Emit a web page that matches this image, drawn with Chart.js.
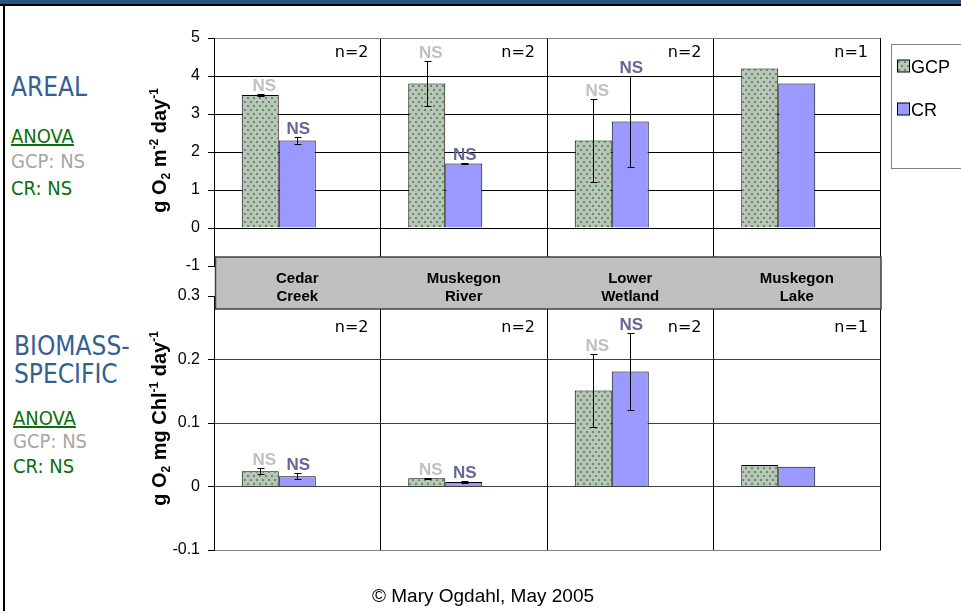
<!DOCTYPE html>
<html>
<head>
<meta charset="utf-8">
<script src="https://cdn.jsdelivr.net/npm/chart.js@4.4.0/dist/chart.umd.min.js"></script>
<style>
  body { margin: 0; width: 961px; height: 611px; position: relative; background: #fff; overflow: hidden; }
  #bar { position: absolute; left: 0; top: 0; width: 961px; height: 4px; background: #2b5384; border-bottom: 2px solid #000; }
  #edge { position: absolute; left: 3px; top: 4px; width: 2px; height: 607px; background: #000; }
  canvas { position: absolute; left: 0; }
  #topChart { top: 0; }
  #bottomChart { top: 250px; }
  .side { position: absolute; font-family: 'DejaVu Sans Condensed', 'DejaVu Sans', sans-serif; font-stretch: condensed; white-space: nowrap; }
  .head { color: #335f91; font-size: 26px; line-height: 28px; }
  .anova { color: #0a6e0a; font-size: 20px; line-height: 24px; text-decoration: underline; }
  .gray { color: #a6a6a6; font-size: 20px; line-height: 24px; }
  .green { color: #0a6e0a; font-size: 20px; line-height: 24px; }
  #copy { position: absolute; top: 585px; left: 0; width: 966px; text-align: center; font-family: 'Liberation Sans Narrow', 'Liberation Sans', sans-serif; font-size: 19px; line-height: 22px; }
</style>
</head>
<body>
<div id="bar"></div>
<div id="edge"></div>

<div class="side head" style="left:11px; top:73px;">AREAL</div>
<div class="side anova" style="left:11px; top:124px;">ANOVA</div>
<div class="side gray" style="left:11px; top:149px;">GCP: NS</div>
<div class="side green" style="left:11px; top:176px;">CR: NS</div>

<div class="side head" style="left:14px; top:332px;">BIOMASS-<br>SPECIFIC</div>
<div class="side anova" style="left:13px; top:406px;">ANOVA</div>
<div class="side gray" style="left:13px; top:429px;">GCP: NS</div>
<div class="side green" style="left:13px; top:454px;">CR: NS</div>

<canvas id="topChart" width="961" height="290"></canvas>
<canvas id="bottomChart" width="961" height="361"></canvas>

<div id="copy">© Mary Ogdahl, May 2005</div>

<script>
// sites
const categories = [['Cedar', 'Creek'], ['Muskegon', 'River'], ['Lower', 'Wetland'], ['Muskegon', 'Lake']];
const nSites = [2, 2, 2, 1];

// areal, g O2 m-2 day-1
const gcpAreal = [3.5, 3.8, 2.3, 4.2];
const crAreal = [2.3, 1.7, 2.8, 3.8];
const gcpArealErr = [0.02, 0.6, 1.1, 0];
const crArealErr = [0.09, 0.02, 1.2, 0];

// biomass-specific, g O2 mg Chl-1 day-1
const gcpBio = [0.024, 0.013, 0.151, 0.034];
const crBio = [0.016, 0.007, 0.181, 0.031];
const gcpBioErr = [0.005, 0.001, 0.057, 0];
const crBioErr = [0.0045, 0.001, 0.061, 0];

// significance notes
const gcpNote = ['NS', 'NS', 'NS', ''];
const crNote = ['NS', 'NS', 'NS', ''];

// y axes
const arealTicks = [-1, 0, 1, 2, 3, 4, 5];
const bioTicks = [-0.1, 0, 0.1, 0.2, 0.3];

const FONT = '"Liberation Sans", Arial, sans-serif';
Chart.defaults.font.family = FONT;
Chart.defaults.color = '#000';

// grey with green dots, like the Excel fill
function dotPattern() {
    const c = document.createElement('canvas');
    c.width = 6; c.height = 8;
    const g = c.getContext('2d');
    g.fillStyle = '#c0c0c0';
    g.fillRect(0, 0, 6, 8);
    g.fillStyle = '#3daa3d';
    g.fillRect(1, 1, 2, 2);
    g.fillRect(4, 5, 2, 2);
    return g.createPattern(c, 'repeat');
}
const gcpFill = dotPattern();
const crFill = '#9999ff';

// title with sub/superscripts, drawn rotated
function richTitle(ctx, parts, x, y) {
    const big = 'bold 20px ' + FONT, small = 'bold 12px ' + FONT;
    let w = 0;
    parts.forEach(p => { ctx.font = p.s ? small : big; w += ctx.measureText(p.t).width; });
    ctx.save();
    ctx.translate(x, y);
    ctx.rotate(-Math.PI / 2);
    ctx.fillStyle = '#000';
    ctx.textAlign = 'left';
    ctx.textBaseline = 'alphabetic';
    let cx = -w / 2;
    parts.forEach(p => {
        ctx.font = p.s ? small : big;
        const dy = p.s === 'sub' ? 10 : p.s === 'sup' ? -2 : 6;
        ctx.fillText(p.t, cx, dy);
        cx += ctx.measureText(p.t).width;
    });
    ctx.restore();
}

const marks = {
    id: 'marks',
    afterDatasetsDraw(chart, args, o) {
        const ctx = chart.ctx, x = chart.scales.x, y = chart.scales.y, area = chart.chartArea;
        ctx.save();
        // error bars
        ctx.strokeStyle = '#000';
        ctx.lineWidth = 1;
        o.errs.forEach((errs, d) => {
            const vals = chart.data.datasets[d].data;
            chart.getDatasetMeta(d).data.forEach((bar, i) => {
                if (!errs[i]) return;
                const hi = Math.round(y.getPixelForValue(vals[i] + errs[i])) + 0.5;
                const lo = Math.round(y.getPixelForValue(vals[i] - errs[i])) + 0.5;
                const cx = Math.round(bar.x) + 0.5;
                ctx.beginPath();
                ctx.moveTo(cx, hi); ctx.lineTo(cx, lo);
                ctx.moveTo(cx - 3, hi); ctx.lineTo(cx + 4, hi);
                ctx.moveTo(cx - 3, lo); ctx.lineTo(cx + 4, lo);
                ctx.stroke();
            });
        });
        // NS labels
        ctx.font = 'bold 17px ' + FONT;
        ctx.textAlign = 'center';
        ctx.textBaseline = 'alphabetic';
        o.notes.forEach((notes, d) => {
            const vals = chart.data.datasets[d].data;
            chart.getDatasetMeta(d).data.forEach((bar, i) => {
                if (!notes[i]) return;
                const top = Math.min(bar.y, y.getPixelForValue(vals[i] + o.errs[d][i]));
                ctx.fillStyle = o.noteColors[d];
                ctx.fillText(notes[i], bar.x + (d === 0 ? 4 : 1), top - 3);
            });
        });
        // n= labels
        ctx.font = '16px "DejaVu Sans", sans-serif';
        ctx.textAlign = 'right';
        ctx.fillStyle = '#000';
        const half = (x.getPixelForValue(1) - x.getPixelForValue(0)) / 2;
        nSites.forEach((n, i) => {
            ctx.fillText('n=' + n, x.getPixelForValue(i) + half - 12, area.top + o.nOffset);
        });
        ctx.restore();
    },
    afterDraw(chart, args, o) {
        const ctx = chart.ctx, x = chart.scales.x, area = chart.chartArea;
        richTitle(ctx, o.title, 160, (area.top + area.bottom) / 2 + o.titleShift);

        if (o.legend) {
            ctx.save();
            const lx = area.right + 11.5;
            ctx.fillStyle = '#fff';
            ctx.fillRect(lx, 44.5, 90, 124);
            ctx.strokeStyle = '#808080';
            ctx.lineWidth = 1;
            ctx.strokeRect(lx, 44.5, 90, 124);
            ctx.font = '18px ' + FONT;
            ctx.textAlign = 'left';
            ctx.textBaseline = 'alphabetic';
            [0, 1].forEach(d => {
                const ds = chart.data.datasets[d];
                const sy = 60 + d * 43;
                ctx.fillStyle = ds.backgroundColor;
                ctx.fillRect(lx + 6, sy, 12, 12);
                ctx.strokeStyle = '#000';
                ctx.strokeRect(lx + 6, sy, 12, 12);
                ctx.fillStyle = '#000';
                ctx.fillText(ds.label, lx + 19.5, sy + 12.5);
            });
            ctx.restore();
        }

        if (o.band) {
            ctx.save();
            const bx = area.left + 1.5, by = area.top - 39;
            ctx.fillStyle = '#c0c0c0';
            ctx.fillRect(bx, by, area.right - bx + 1, 52);
            ctx.strokeStyle = '#404040';
            ctx.lineWidth = 1.5;
            ctx.strokeRect(bx, by, area.right - bx + 1, 52);
            ctx.font = 'bold 15px ' + FONT;
            ctx.fillStyle = '#000';
            ctx.textAlign = 'center';
            ctx.textBaseline = 'middle';
            chart.data.labels.forEach((lab, i) => {
                const cx = x.getPixelForValue(i);
                ctx.fillText(lab[0], cx, area.top - 17);
                ctx.fillText(lab[1], cx, area.top + 1);
            });
            ctx.restore();
        }
    }
};

function makeChart(id, gcp, cr, gcpErr, crErr, ticks, pad, extra) {
    const lo = ticks[0], hi = ticks[ticks.length - 1];
    return new Chart(document.getElementById(id), {
        type: 'bar',
        data: {
            labels: categories,
            datasets: [
                { label: 'GCP', data: gcp, backgroundColor: gcpFill, borderColor: '#000', borderWidth: 1 },
                { label: 'CR', data: cr, backgroundColor: crFill, borderColor: '#000', borderWidth: 1 },
                { label: '', data: categories.map(() => null) } // empty slot, as in the Excel chart
            ]
        },
        options: {
            responsive: false,
            animation: false,
            events: [],
            layout: { padding: pad },
            datasets: { bar: { categoryPercentage: 2 / 3, barPercentage: 1 } },
            plugins: {
                legend: { display: false },
                tooltip: { enabled: false },
                marks: Object.assign({
                    errs: [gcpErr, crErr],
                    notes: [gcpNote, crNote],
                    noteColors: ['#c0c0c0', '#666699']
                }, extra)
            },
            scales: {
                x: {
                    ticks: { display: false },
                    grid: {
                        offset: true,
                        drawTicks: false,
                        color: c => c.index === categories.length ? '#808080' : '#000'
                    },
                    border: { color: '#808080' }
                },
                y: {
                    min: lo,
                    max: hi,
                    afterBuildTicks: s => { s.ticks = ticks.map(v => ({ value: v })); },
                    ticks: {
                        padding: 8,
                        font: { size: 16 },
                        color: '#000',
                        callback: v => String(Math.round(v * 10) / 10)
                    },
                    grid: {
                        tickLength: 6,
                        tickColor: '#000',
                        color: c => (c.tick && (c.tick.value === hi || c.tick.value === lo)) ? '#808080' : extra.gridColor
                    },
                    border: { color: '#000' },
                    afterFit: s => { s.width = 214; }
                }
            }
        },
        plugins: [marks]
    });
}

makeChart('topChart', gcpAreal, crAreal, gcpArealErr, crArealErr, arealTicks,
    { top: 38, right: 81, bottom: 24, left: 0 },
    {
        nOffset: 19, titleShift: -1.5, legend: true, gridColor: '#000',
        title: [{ t: 'g O' }, { t: '2', s: 'sub' }, { t: ' m' }, { t: '-2', s: 'sup' }, { t: ' day' }, { t: '-1', s: 'sup' }]
    });

makeChart('bottomChart', gcpBio, crBio, gcpBioErr, crBioErr, bioTicks,
    { top: 46, right: 81, bottom: 61, left: 0 },
    {
        nOffset: 36, titleShift: -4.5, band: true, gridColor: '#404040',
        title: [{ t: 'g O' }, { t: '2', s: 'sub' }, { t: ' mg Chl' }, { t: '-1', s: 'sup' }, { t: ' day' }, { t: '-1', s: 'sup' }]
    });
</script>
</body>
</html>
